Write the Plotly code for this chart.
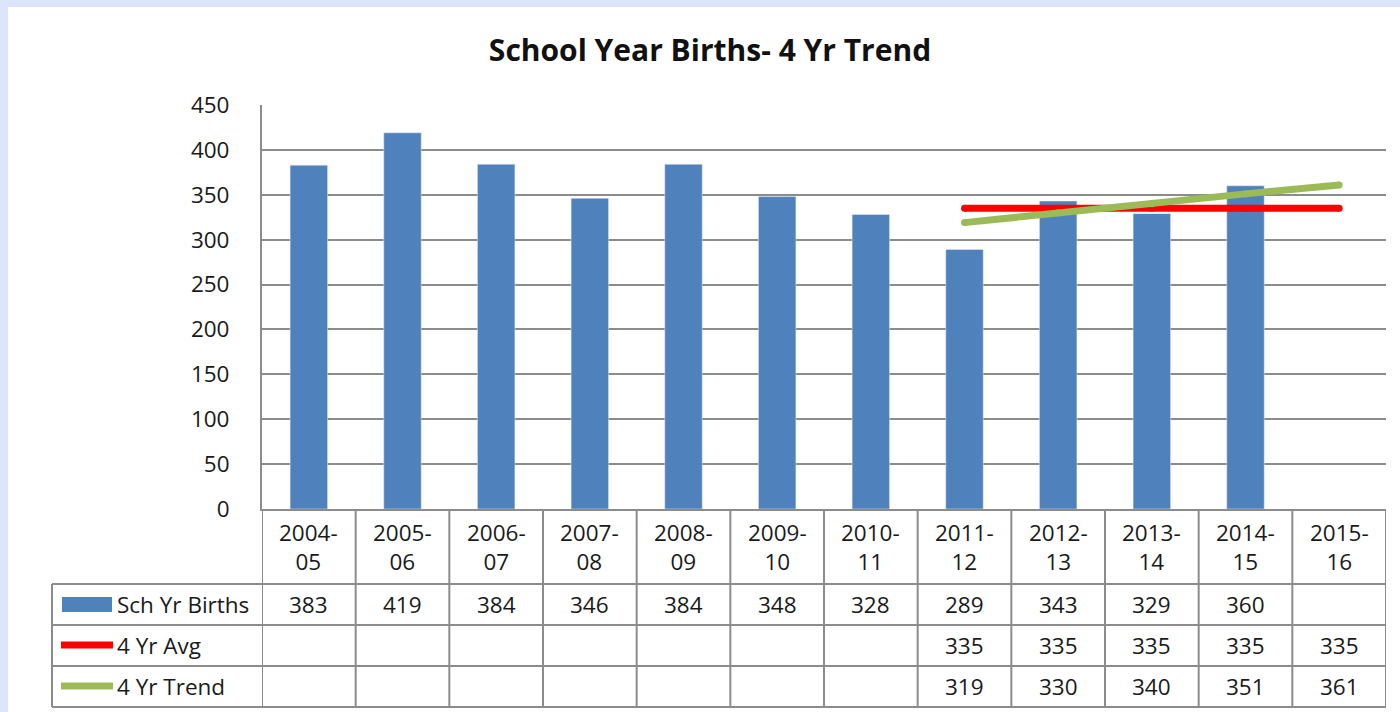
import plotly.graph_objects as go

# ---- data ----
years = ["2004-05", "2005-06", "2006-07", "2007-08", "2008-09", "2009-10",
         "2010-11", "2011-12", "2012-13", "2013-14", "2014-15", "2015-16"]
births = [383, 419, 384, 346, 384, 348, 328, 289, 343, 329, 360, None]
avg4 = [None, None, None, None, None, None, None, 335, 335, 335, 335, 335]
trend4 = [None, None, None, None, None, None, None, 319, 330, 340, 351, 361]
series_names = ["Sch Yr Births", "4 Yr Avg", "4 Yr Trend"]
y_ticks = [0, 50, 100, 150, 200, 250, 300, 350, 400, 450]

# ---- layout geometry (pixels) ----
W, H = 1400, 712
L, R, T, B = 262, 1386, 105, 509
PW, PH = R - L, B - T
FONT = "Open Sans"
FS = 22.5
BLUE, RED, GREEN, GRID = "#4F81BD", "#FF0000", "#9BBB59", "#8c8c8c"
TXT = "#1a1a1a"


def px(x):
    return (x - L) / PW


def py(y):
    return (B - y) / PH


idx = list(range(len(years)))

fig = go.Figure()
fig.add_trace(go.Bar(x=idx, y=births, marker_color=BLUE, width=0.4, name=series_names[0]))
fig.add_trace(go.Scatter(x=idx, y=avg4, mode="lines+markers", line=dict(color=RED, width=7),
                         marker=dict(color=RED, size=7), name=series_names[1]))
fig.add_trace(go.Scatter(x=idx, y=trend4, mode="lines+markers", line=dict(color=GREEN, width=7),
                         marker=dict(color=GREEN, size=7), name=series_names[2]))

shapes = []
annotations = []

# background frame
shapes.append(dict(type="rect", xref="paper", yref="paper", x0=px(8), x1=px(W + 5),
                   y0=py(H + 5), y1=py(7), fillcolor="white", line_width=0, layer="below"))

# table lines
row_ys = [584, 625, 666, 707]
for yy in row_ys:
    shapes.append(dict(type="line", xref="paper", yref="paper", x0=px(52), x1=px(R),
                       y0=py(yy), y1=py(yy), line=dict(color=GRID, width=2)))
for i in range(len(years) + 1):
    shapes.append(dict(type="line", xref="x", yref="paper", x0=i - 0.5, x1=i - 0.5,
                       y0=py(B), y1=py(707), line=dict(color=GRID, width=2)))
shapes.append(dict(type="line", xref="paper", yref="paper", x0=px(52), x1=px(52),
                   y0=py(584), y1=py(707), line=dict(color=GRID, width=2)))

# legend keys in table
shapes.append(dict(type="rect", xref="paper", yref="paper", x0=px(62), x1=px(112),
                   y0=py(612), y1=py(597), fillcolor=BLUE, line_width=0))
shapes.append(dict(type="line", xref="paper", yref="paper", x0=px(61), x1=px(113),
                   y0=py(645), y1=py(645), line=dict(color=RED, width=7)))
shapes.append(dict(type="line", xref="paper", yref="paper", x0=px(61), x1=px(113),
                   y0=py(686), y1=py(686), line=dict(color=GREEN, width=7)))

label_ys = [604, 645, 686]
for name, yy in zip(series_names, label_ys):
    annotations.append(dict(xref="paper", yref="paper", x=px(115), y=py(yy), text=name,
                            showarrow=False, xanchor="left", yanchor="middle",
                            font=dict(family=FONT, size=FS, color=TXT)))

# column header labels
for i, yr in enumerate(years):
    a, b = yr.split("-")
    annotations.append(dict(xref="x", yref="paper", x=i, y=py(547),
                            text=f"{a}-<br>{b}", showarrow=False,
                            xanchor="center", yanchor="middle",
                            font=dict(family=FONT, size=FS, color=TXT)))

# values
for series, yy in zip([births, avg4, trend4], label_ys):
    for i, v in enumerate(series):
        if v is None:
            continue
        annotations.append(dict(xref="x", yref="paper", x=i, y=py(yy), text=str(v),
                                showarrow=False, xanchor="center", yanchor="middle",
                                font=dict(family=FONT, size=FS, color=TXT)))

fig.update_layout(
    width=W, height=H,
    margin=dict(l=L, r=W - R, t=T, b=H - B),
    paper_bgcolor="#dde5fb",
    plot_bgcolor="white",
    showlegend=False,
    title=dict(text="<b>School Year Births- 4 Yr Trend</b>", x=710 / W, xanchor="center",
               y=1 - 50 / H, yanchor="middle",
               font=dict(family=FONT, size=30, color="#111")),
    xaxis=dict(range=[-0.5, len(years) - 0.5], showticklabels=False, showgrid=False,
               zeroline=False, showline=True, linecolor=GRID, linewidth=2, ticks=""),
    yaxis=dict(range=[0, 450], tickvals=y_ticks, showgrid=True, gridcolor=GRID, gridwidth=2,
               zeroline=False, showline=True, linecolor=GRID, linewidth=2,
               ticks="", ticklabelstandoff=26,
               tickfont=dict(family=FONT, size=FS, color=TXT)),
    shapes=shapes,
    annotations=annotations,
)

fig.write_html("out.html", config={"displayModeBar": False},
               post_script="document.body.style.margin='0';")
